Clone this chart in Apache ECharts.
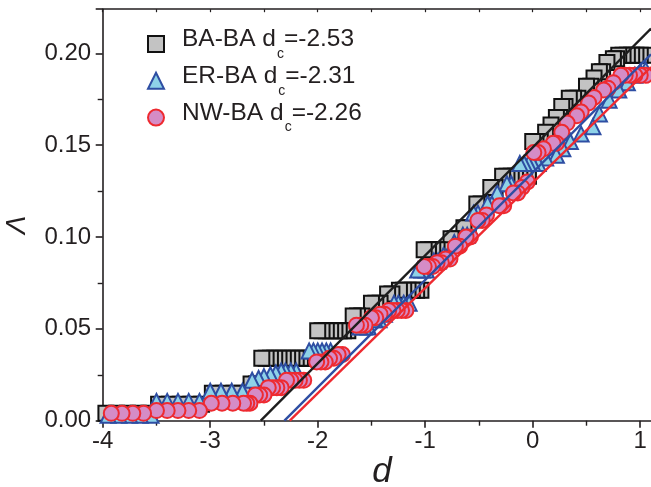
<!DOCTYPE html>
<html>
<head>
<meta charset="utf-8">
<script src="https://cdn.jsdelivr.net/npm/echarts@6/dist/echarts.min.js"></script>
<style>
  html, body { margin: 0; padding: 0; background: #ffffff; }
  #chart { width: 651px; height: 487px; }
</style>
</head>
<body>
<div id="chart"></div>
<script>
// Λ versus d for three coupled network pairs, [d, Λ] per point
const baPoints = [
  [-3.97,0.004],[-3.87,0.004],[-3.77,0.004],[-3.67,0.004],[-3.57,0.004],
  [-3.48,0.009],[-3.38,0.009],[-3.28,0.009],[-3.18,0.009],[-3.08,0.009],
  [-2.98,0.015],[-2.88,0.015],[-2.78,0.015],[-2.70,0.015],
  [-2.62,0.020],[-2.57,0.020],
  [-2.52,0.034],[-2.48,0.034],[-2.44,0.034],[-2.40,0.034],[-2.36,0.034],[-2.32,0.034],
  [-2.28,0.034],[-2.24,0.034],[-2.20,0.034],[-2.16,0.034],[-2.12,0.034],[-2.08,0.034],
  [-2.00,0.049],[-1.96,0.049],[-1.92,0.049],[-1.88,0.049],[-1.84,0.049],[-1.80,0.049],[-1.76,0.049],[-1.72,0.049],
  [-1.67,0.057],[-1.63,0.057],[-1.59,0.057],
  [-1.50,0.064],[-1.46,0.064],[-1.42,0.064],
  [-1.35,0.069],[-1.31,0.069],
  [-1.24,0.071],[-1.20,0.071],[-1.16,0.071],[-1.12,0.071],[-1.08,0.071],[-1.04,0.071],
  [-1.01,0.093],[-0.97,0.093],[-0.93,0.093],[-0.89,0.093],[-0.85,0.093],
  [-0.76,0.099],[-0.72,0.099],
  [-0.64,0.105],[-0.60,0.105],
  [-0.52,0.118],[-0.48,0.118],
  [-0.39,0.127],[-0.35,0.127],
  [-0.28,0.133],[-0.24,0.133],[-0.20,0.133],[-0.16,0.133],[-0.12,0.133],[-0.08,0.133],[-0.04,0.133],
  [0.00,0.152],[0.03,0.152],[0.07,0.152],
  [0.12,0.157],[0.17,0.161],
  [0.22,0.165],[0.25,0.165],
  [0.27,0.171],[0.30,0.171],
  [0.34,0.1755],[0.38,0.1755],[0.42,0.1755],
  [0.50,0.182],[0.54,0.182],
  [0.57,0.1865],
  [0.62,0.190],[0.65,0.190],
  [0.69,0.195],
  [0.75,0.197],[0.78,0.197],
  [0.80,0.199],[0.84,0.199],[0.88,0.199],[0.92,0.199],[0.96,0.199],[1.00,0.199],[1.04,0.199]
];

const erPoints = [
  [-3.95,0.003],[-3.85,0.003],[-3.75,0.003],[-3.65,0.003],[-3.55,0.003],
  [-3.50,0.0105],[-3.40,0.0105],[-3.30,0.0105],[-3.20,0.0105],[-3.10,0.0105],
  [-3.00,0.016],[-2.90,0.016],[-2.80,0.016],[-2.70,0.016],
  [-2.61,0.022],[-2.55,0.023],[-2.50,0.024],[-2.44,0.025],[-2.39,0.026],[-2.34,0.027],[-2.30,0.027],[-2.25,0.027],[-2.20,0.027],
  [-2.08,0.038],[-2.04,0.038],[-2.00,0.038],[-1.96,0.038],[-1.92,0.038],[-1.88,0.038],
  [-1.61,0.051],[-1.57,0.051],[-1.53,0.051],[-1.47,0.055],[-1.43,0.055],[-1.38,0.058],
  [-1.29,0.064],[-1.25,0.064],[-1.20,0.064],[-1.15,0.064],
  [-1.07,0.082],[-1.03,0.082],[-0.99,0.082],[-0.92,0.087],[-0.88,0.087],[-0.83,0.090],
  [-0.73,0.097],[-0.65,0.101],[-0.61,0.101],[-0.55,0.113],[-0.51,0.113],
  [-0.42,0.118],[-0.38,0.118],[-0.33,0.124],[-0.24,0.129],[-0.20,0.129],
  [-0.12,0.140],[-0.08,0.140],[-0.04,0.140],
  [0.00,0.140],[0.05,0.140],[0.12,0.143],[0.22,0.1445],[0.28,0.148],[0.35,0.152],
  [0.45,0.156],[0.56,0.160],[0.62,0.167],[0.71,0.1745],[0.80,0.180],[0.88,0.184],
  [0.95,0.188],[1.00,0.190],[1.05,0.191]
];

const nwPoints = [
  [-3.92,0.004],[-3.82,0.004],[-3.72,0.004],[-3.62,0.004],
  [-3.50,0.0055],[-3.40,0.0055],[-3.30,0.0055],[-3.20,0.0055],[-3.10,0.0055],
  [-2.99,0.0095],[-2.89,0.0095],[-2.79,0.0095],[-2.69,0.0095],[-2.66,0.0095],[-2.63,0.0095],
  [-2.58,0.014],[-2.54,0.014],[-2.50,0.014],
  [-2.46,0.018],[-2.42,0.018],[-2.38,0.018],[-2.34,0.018],
  [-2.29,0.022],[-2.25,0.022],[-2.21,0.022],[-2.17,0.022],[-2.13,0.022],
  [-2.01,0.032],[-1.97,0.032],[-1.93,0.032],[-1.89,0.034],[-1.85,0.034],[-1.81,0.036],[-1.77,0.036],
  [-1.64,0.052],[-1.60,0.052],[-1.56,0.052],[-1.50,0.056],[-1.46,0.056],[-1.42,0.058],[-1.38,0.058],
  [-1.34,0.060],[-1.30,0.060],[-1.26,0.060],[-1.22,0.060],[-1.18,0.060],
  [-1.01,0.084],[-0.97,0.084],[-0.93,0.084],[-0.89,0.086],[-0.85,0.086],[-0.81,0.088],[-0.77,0.088],
  [-0.72,0.095],[-0.68,0.095],[-0.62,0.100],[-0.58,0.100],
  [-0.51,0.109],[-0.47,0.109],[-0.43,0.112],[-0.31,0.117],[-0.27,0.117],
  [-0.18,0.124],[-0.14,0.124],[-0.10,0.127],[-0.05,0.130],
  [0.01,0.146],[0.05,0.146],[0.10,0.148],[0.19,0.151],[0.22,0.151],[0.27,0.157],[0.32,0.162],
  [0.41,0.166],[0.45,0.168],[0.52,0.173],[0.57,0.176],[0.66,0.180],[0.70,0.181],[0.75,0.184],
  [0.82,0.188],[0.86,0.188],[0.90,0.188],[0.95,0.188],[1.00,0.188],[1.05,0.188]
];

const seriesNames = ['BA-BA', 'ER-BA', 'NW-BA'];
const criticalD = [-2.53, -2.31, -2.26];   // d_c, where each fit line meets Λ = 0
const fitSlopes = [0.0588, 0.0585, 0.0573];
const xMajorTicks = [-4, -3, -2, -1, 0, 1];
const xMinorTicks = [-3.5, -2.5, -1.5, -0.5, 0.5];
const yMajorTicks = [0, 0.05, 0.10, 0.15, 0.20];
const yMinorTicks = [0.025, 0.075, 0.125, 0.175];

const X_MIN = -4, X_MAX = 1.1, Y_MIN = 0, Y_MAX = 0.224;
const INK = '#231f20';
const FONT = '"Liberation Sans", Arial, sans-serif';
const styles = [
  { symbol: 'rect',     size: 15, fill: '#c3c3c3', edge: '#111111', line: '#1e1e1e' },
  { symbol: 'triangle', size: 15, fill: '#8ed2e8', edge: '#2e4ea3', line: '#2e4ea3' },
  { symbol: 'circle',   size: 15, fill: '#d58cc6', edge: '#ee2a30', line: '#ee2a30' }
];
const pointSets = [baPoints, erPoints, nwPoints];

// points are laid down from right to left so the leftmost marker of a run stays on top
const scatterSeries = pointSets.map((pts, i) => ({
  name: seriesNames[i],
  type: 'scatter',
  symbol: styles[i].symbol,
  symbolSize: styles[i].size,
  z: 2 + i,
  itemStyle: { color: styles[i].fill, borderColor: styles[i].edge, borderWidth: 2, opacity: 1 },
  emphasis: { disabled: true },
  data: pts.slice().reverse()
}));

const fitSeries = criticalD.map((dc, i) => ({
  name: seriesNames[i] + ' fit',
  type: 'line',
  z: 6,
  symbol: 'none',
  clip: true,
  silent: true,
  lineStyle: { color: styles[i].line, width: 2.4 },
  data: [[dc, 0], [X_MAX, fitSlopes[i] * (X_MAX - dc)]]
}));

const dcLabels = criticalD.map(v => v.toFixed(2));

const chart = echarts.init(document.getElementById('chart'), null, { renderer: 'canvas' });
chart.setOption({
  animation: false,
  backgroundColor: '#ffffff',
  grid: { left: 102.7, right: -4, top: 9.2, bottom: 66.3 },
  legend: {
    orient: 'vertical',
    left: 147,
    top: 21,
    padding: 0,
    itemWidth: 16,
    itemHeight: 16,
    itemGap: -3.2,
    selectedMode: false,
    data: seriesNames,
    formatter: name => {
      const i = seriesNames.indexOf(name);
      return '{f|' + name + ' d}{s|c}{m|=' + dcLabels[i] + '}';
    },
    textStyle: {
      color: INK,
      fontFamily: FONT,
      rich: {
        f: { fontSize: 24.5, lineHeight: 34, verticalAlign: 'top', color: INK, fontFamily: FONT, padding: [0, 0, 0, 13] },
        m: { fontSize: 24.5, lineHeight: 34, verticalAlign: 'top', color: INK, fontFamily: FONT },
        s: { fontSize: 14, lineHeight: 14, verticalAlign: 'bottom', color: INK, fontFamily: FONT, padding: [26, 0, 0, 1] }
      }
    }
  },
  xAxis: [
    {
      type: 'value', position: 'bottom', min: X_MIN, max: X_MAX, interval: 1,
      axisLine: { show: true, onZero: false, lineStyle: { color: INK, width: 1.6 } },
      axisTick: { show: true, inside: false, length: 7, customValues: xMajorTicks, lineStyle: { color: INK, width: 1.6 } },
      axisLabel: { show: true, customValues: xMajorTicks, margin: 9, fontSize: 24, color: INK,
                   fontFamily: FONT, formatter: v => String(Math.round(v)) },
      splitLine: { show: false }
    },
    {
      type: 'value', position: 'bottom', min: X_MIN, max: X_MAX,
      axisLine: { show: false, onZero: false },
      axisTick: { show: true, inside: false, length: 5, customValues: xMinorTicks, lineStyle: { color: INK, width: 1.4 } },
      axisLabel: { show: false },
      splitLine: { show: false }
    },
    {
      type: 'value', position: 'top', min: X_MIN, max: X_MAX,
      axisLine: { show: true, onZero: false, lineStyle: { color: INK, width: 1.6 } },
      axisTick: { show: true, inside: true, length: 3, customValues: xMajorTicks.concat(xMinorTicks), lineStyle: { color: INK, width: 1.2 } },
      axisLabel: { show: false },
      splitLine: { show: false }
    }
  ],
  yAxis: [
    {
      type: 'value', position: 'left', min: Y_MIN, max: Y_MAX, interval: 0.05,
      axisLine: { show: true, onZero: false, lineStyle: { color: INK, width: 1.6 } },
      axisTick: { show: true, inside: false, length: 7, customValues: yMajorTicks.concat([Y_MAX]), lineStyle: { color: INK, width: 1.6 } },
      axisLabel: { show: true, customValues: yMajorTicks, margin: 11.5, fontSize: 24, color: INK,
                   fontFamily: FONT, formatter: v => v.toFixed(2) },
      splitLine: { show: false }
    },
    {
      type: 'value', position: 'left', min: Y_MIN, max: Y_MAX,
      axisLine: { show: false, onZero: false },
      axisTick: { show: true, inside: false, length: 5, customValues: yMinorTicks, lineStyle: { color: INK, width: 1.4 } },
      axisLabel: { show: false },
      splitLine: { show: false }
    }
  ],
  graphic: [
    {
      type: 'text', x: 382, y: 472, silent: true,
      style: { text: 'd', fill: INK, font: 'italic 35px ' + FONT, align: 'center', verticalAlign: 'middle' }
    },
    {
      type: 'text', x: 17, y: 225, rotation: Math.PI / 2, silent: true,
      style: { text: 'Λ', fill: INK, font: 'italic 28px ' + FONT, align: 'center', verticalAlign: 'middle' }
    }
  ],
  series: scatterSeries.concat(fitSeries)
});
</script>
</body>
</html>
